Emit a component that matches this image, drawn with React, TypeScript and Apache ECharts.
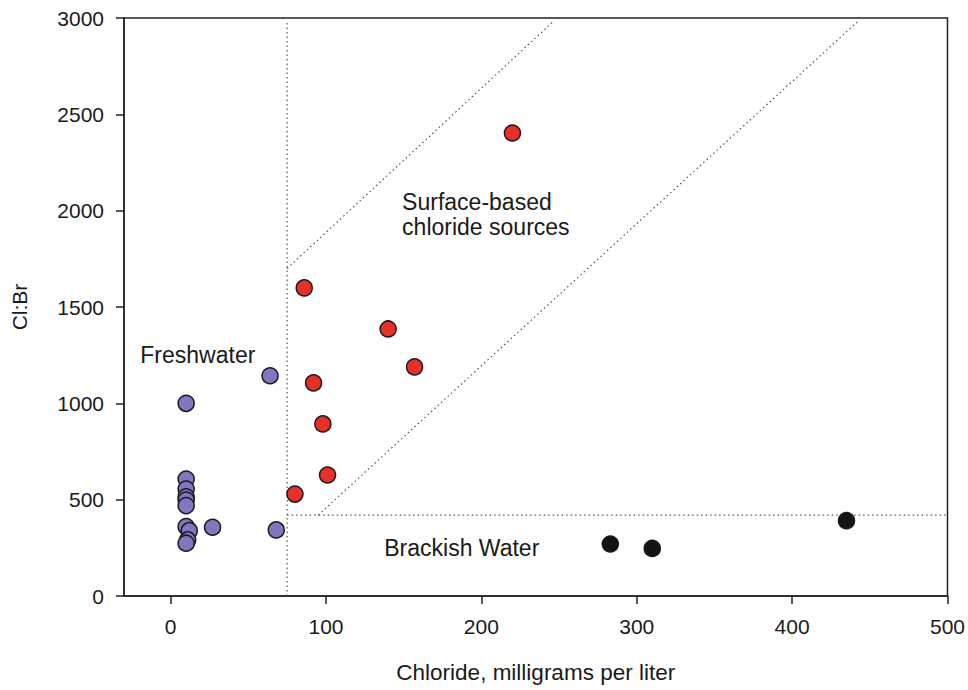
import React, { useEffect, useRef } from "react";
import * as echarts from "echarts";

// Data (Chloride mg/L, Cl:Br)
const freshwaterX = [64, 10, 10, 10, 10, 10, 10, 10, 12, 11, 10, 27, 68];
const freshwaterY = [1143, 1000, 607, 555, 515, 498, 469, 360, 339, 291, 274, 357, 343];
const surfaceX = [220, 86, 140, 157, 92, 98, 101, 80];
const surfaceY = [2403, 1599, 1386, 1189, 1106, 893, 628, 529];
const brackishX = [283, 310, 435];
const brackishY = [270, 247, 391];

// Boundary lines
const verticalLineX = [75, 75];
const verticalLineY = [0, 2975];
const upperDiagX = [75, 246];
const upperDiagY = [1700, 2980];
const lowerDiagX = [95, 442];
const lowerDiagY = [420, 2980];
const horizLineX = [75, 500];
const horizLineY = [420, 420];

// Annotations
const annotTexts = ["Freshwater", "Surface-based\nchloride sources", "Brackish Water"];
const annotX = [-19.5, 149, 137.5];
const annotY = [1252, 1980, 249];

const xTicks = [0, 100, 200, 300, 400, 500];
const yTicks = [0, 500, 1000, 1500, 2000, 2500, 3000];

const FONT = "'Liberation Sans', Arial, Helvetica, sans-serif";

const zip = (xs: number[], ys: number[]) => xs.map((x, i) => [x, ys[i]]);

export default function App() {
  const ref = useRef<HTMLDivElement>(null);
  useEffect(() => {
    if (!ref.current) return;
    const chart = echarts.init(ref.current, undefined, { renderer: "svg" });
    const dotted = { color: "#555", width: 1.2, type: [1.5, 3] as any };
    const lineSeries = (xs: number[], ys: number[]) => ({
      type: "line",
      data: zip(xs, ys),
      showSymbol: false,
      symbol: "none",
      lineStyle: dotted,
      silent: true,
      z: 1,
    });
    const markerStyle = (color: string) => ({
      color,
      borderColor: "#1a1a1a",
      borderWidth: 1.5,
      opacity: 1,
    });
    chart.setOption({
      animation: false,
      backgroundColor: "#ffffff",
      grid: {
        left: 124,
        right: 20,
        top: 18,
        bottom: 94,
        show: true,
        borderColor: "#222",
        borderWidth: 1.5,
        containLabel: false,
      },
      xAxis: {
        type: "value",
        min: -30,
        max: 500,
        name: "Chloride, milligrams per liter",
        nameLocation: "middle",
        nameGap: 65,
        nameTextStyle: { fontFamily: FONT, fontSize: 22.5, color: "#1a1a1a" },
        axisLine: { show: true, onZero: false, lineStyle: { color: "#222", width: 1.5 } },
        axisTick: {
          show: true,
          length: 8,
          inside: false,
          customValues: xTicks,
          lineStyle: { color: "#222", width: 1.5 },
        },
        axisLabel: {
          fontFamily: FONT,
          fontSize: 21,
          color: "#1a1a1a",
          margin: 20,
          customValues: xTicks,
          formatter: (v: number) => String(v),
        },
        splitLine: { show: false },
      },
      yAxis: {
        type: "value",
        min: 0,
        max: 3000,
        interval: 500,
        name: "Cl:Br",
        nameLocation: "middle",
        nameGap: 94,
        nameRotate: 90,
        nameTextStyle: { fontFamily: FONT, fontSize: 21, color: "#1a1a1a" },
        axisLine: { show: true, onZero: false, lineStyle: { color: "#222", width: 1.5 } },
        axisTick: {
          show: true,
          length: 8,
          inside: false,
          customValues: yTicks,
          lineStyle: { color: "#222", width: 1.5 },
        },
        axisLabel: {
          fontFamily: FONT,
          fontSize: 21,
          color: "#1a1a1a",
          margin: 20,
          customValues: yTicks,
          formatter: (v: number) => String(v),
        },
        splitLine: { show: false },
      },
      series: [
        lineSeries(verticalLineX, verticalLineY),
        lineSeries(upperDiagX, upperDiagY),
        lineSeries(lowerDiagX, lowerDiagY),
        lineSeries(horizLineX, horizLineY),
        {
          type: "scatter",
          name: "Freshwater",
          data: zip(freshwaterX, freshwaterY),
          symbol: "circle",
          symbolSize: 16,
          itemStyle: markerStyle("#8375c2"),
          z: 3,
        },
        {
          type: "scatter",
          name: "Surface-based",
          data: zip(surfaceX, surfaceY),
          symbol: "circle",
          symbolSize: 16,
          itemStyle: markerStyle("#e8302a"),
          z: 3,
        },
        {
          type: "scatter",
          name: "Brackish",
          data: zip(brackishX, brackishY),
          symbol: "circle",
          symbolSize: 16,
          itemStyle: markerStyle("#141414"),
          z: 3,
        },
        {
          type: "scatter",
          name: "annotations",
          silent: true,
          symbolSize: 0,
          itemStyle: { opacity: 1, color: "transparent" },
          data: annotTexts.map((t, i) => ({ value: [annotX[i], annotY[i]], name: t })),
          label: {
            show: true,
            position: "right",
            distance: 0,
            formatter: (p: any) => p.name,
            fontFamily: FONT,
            fontSize: 23,
            lineHeight: 25,
            color: "#1a1a1a",
            opacity: 1,
            align: "left",
          },
          z: 4,
        },
      ],
    });
    return () => chart.dispose();
  }, []);
  return <div ref={ref} style={{ width: 968, height: 690, position: "absolute", left: 0, top: 0 }} />;
}
